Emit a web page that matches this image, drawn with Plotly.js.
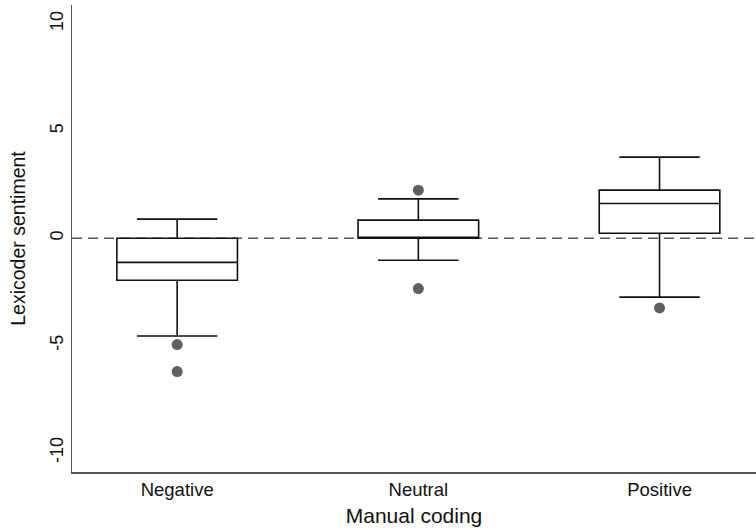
<!DOCTYPE html>
<html>
<head>
<meta charset="utf-8">
<script src="https://cdn.plot.ly/plotly-3.0.1.min.js"></script>
<style>html,body{margin:0;padding:0;background:#fff;}#chart{width:756px;height:530px;}</style>
</head>
<body>
<div id="chart"></div>
<script>
var categories = ["Negative", "Neutral", "Positive"];
var q1Values = [-1.96, 0.0, 0.23];
var medianValues = [-1.13, 0.0, 1.62];
var q3Values = [0.0, 0.84, 2.24];
var lowerWhisker = [-4.56, -1.03, -2.75];
var upperWhisker = [0.89, 1.83, 3.78];
var outlierCategories = ["Negative", "Negative", "Neutral", "Neutral", "Positive"];
var outlierValues = [-4.96, -6.22, 2.24, -2.35, -3.25];

var boxTrace = {
  type: "box",
  x: categories,
  q1: q1Values,
  median: medianValues,
  q3: q3Values,
  lowerfence: lowerWhisker,
  upperfence: upperWhisker,
  boxpoints: false,
  width: 0.5,
  whiskerwidth: 0.667,
  fillcolor: "#ffffff",
  line: {color: "#111111", width: 1.6},
  hoverinfo: "skip",
  showlegend: false
};

var outlierTrace = {
  type: "scatter",
  mode: "markers",
  x: outlierCategories,
  y: outlierValues,
  marker: {color: "#606060", size: 11},
  hoverinfo: "skip",
  showlegend: false
};

var layout = {
  width: 756,
  height: 530,
  margin: {l: 72, r: 0, t: 5, b: 58},
  paper_bgcolor: "#ffffff",
  plot_bgcolor: "#ffffff",
  font: {family: "Liberation Sans, Arial, sans-serif", color: "#111111"},
  showlegend: false,
  xaxis: {
    type: "category",
    categoryorder: "array",
    categoryarray: categories,
    range: [-0.436, 2.40],
    showgrid: false,
    zeroline: false,
    showline: true,
    linecolor: "#555555",
    linewidth: 1.5,
    ticks: "",
    tickfont: {size: 18.5, color: "#111111"},
    title: {text: "Manual coding", font: {size: 21, color: "#111111"}, standoff: 9}
  },
  yaxis: {
    range: [-10.9, 10.87],
    tickvals: [-10, -5, 0, 5, 10],
    ticktext: ["-10", "-5", "0", "5", "10"],
    tickangle: -90,
    showgrid: false,
    zeroline: false,
    showline: true,
    linecolor: "#555555",
    linewidth: 1.5,
    ticks: "",
    ticklen: 0,
    tickfont: {size: 18, color: "#111111"},
    title: {text: "Lexicoder sentiment", font: {size: 19.5, color: "#111111"}, standoff: 16}
  },
  shapes: [{
    type: "line",
    xref: "paper",
    yref: "y",
    x0: 0, x1: 1,
    y0: 0, y1: 0,
    layer: "below",
    line: {color: "#555555", width: 1.6, dash: "10px,6px"}
  }]
};

Plotly.newPlot("chart", [boxTrace, outlierTrace], layout, {staticPlot: true, displayModeBar: false});
</script>
</body>
</html>
